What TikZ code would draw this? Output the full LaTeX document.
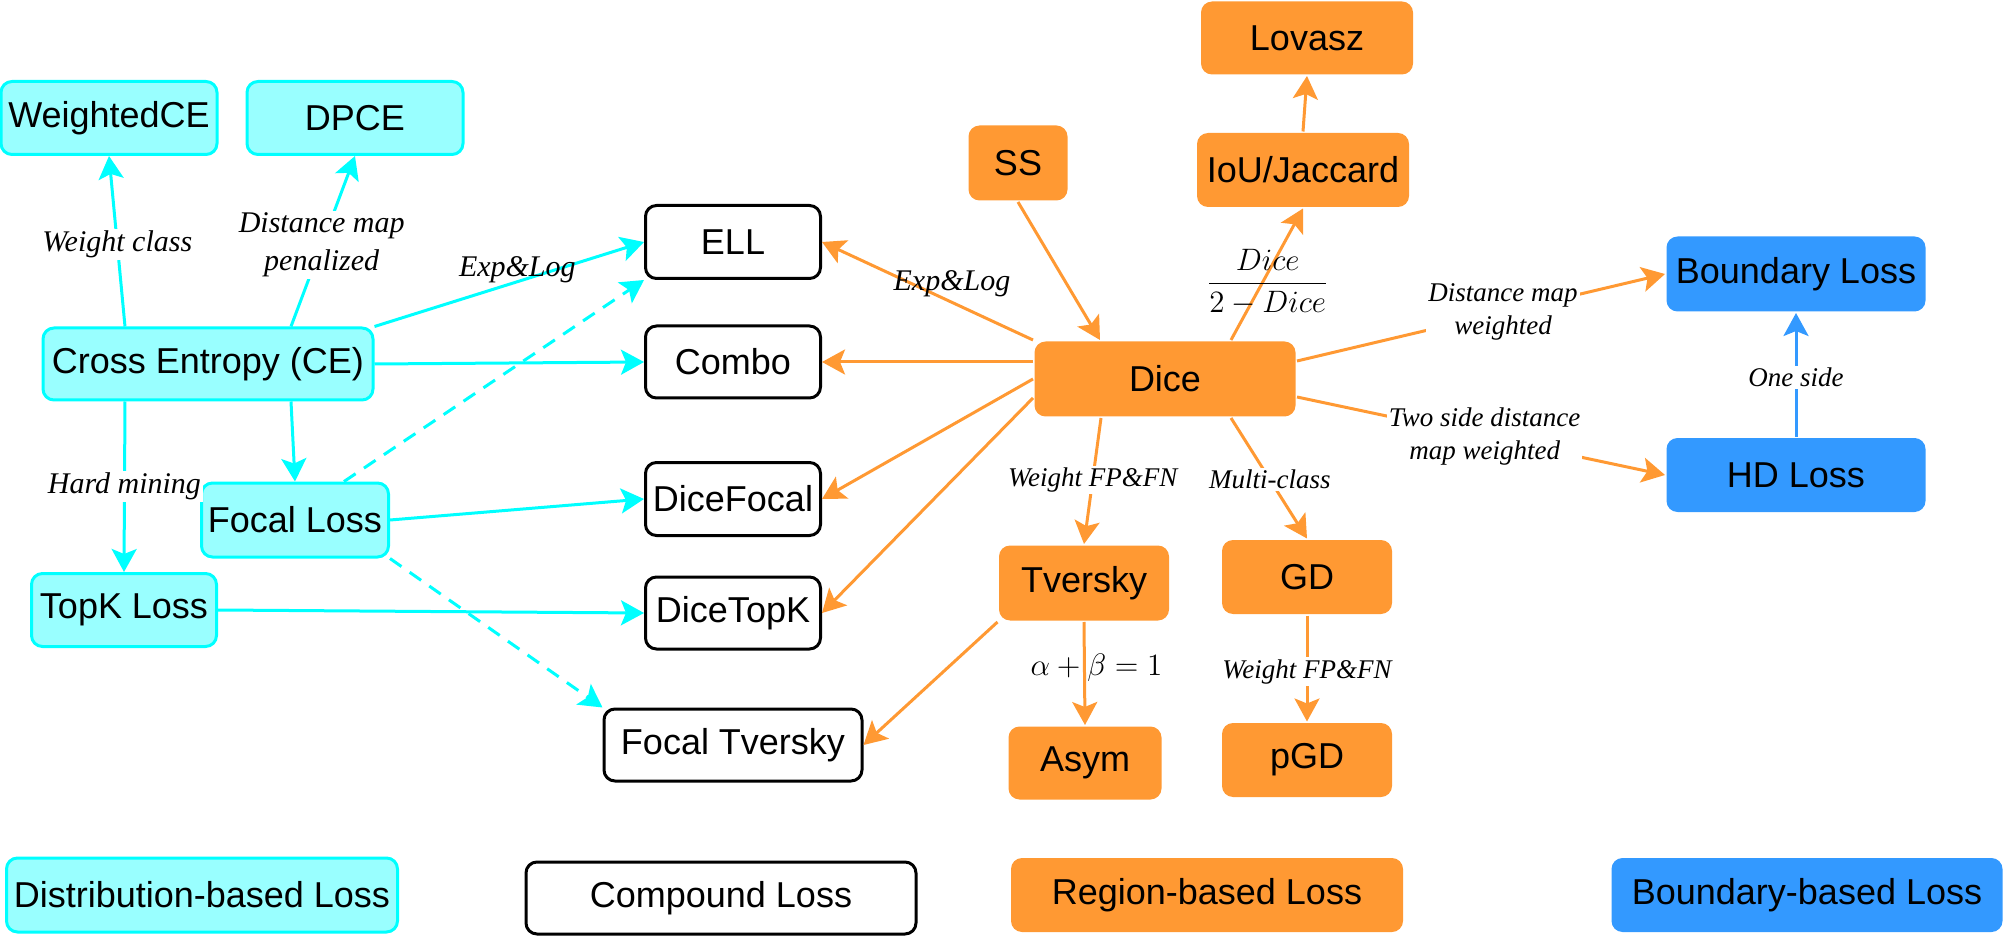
\documentclass[tikz,border=0pt]{standalone}
\usepackage{fix-cm}
\usepackage[no-math]{fontspec}
\setmainfont{Liberation Sans}
\newfontfamily\lblserif{Liberation Serif}
\usetikzlibrary{arrows.meta,calc}
\definecolor{cyanfill}{HTML}{99FFFF}
\definecolor{cyanline}{HTML}{00FFFF}
\definecolor{orng}{HTML}{FF9933}
\definecolor{blu}{HTML}{3399FF}
\begin{document}
\begin{tikzpicture}[x=0.5pt,y=-0.5pt,
  box/.style={rounded corners=5.5pt, inner sep=0pt, align=center,
    font=\fontsize{18}{21}\selectfont, line width=1.5pt},
  wh/.style 2 args={minimum width={#1*0.5pt}, minimum height={#2*0.5pt}},
  dist/.style={box, draw=cyanline, fill=cyanfill},
  comp/.style={box, draw=black, fill=white},
  regn/.style={box, fill=orng},
  bndy/.style={box, fill=blu},
  arr/.style={line width=1.5pt, -{Stealth[length=11.5pt,width=12.5pt,inset=2.5pt]}},
  carr/.style={arr, cyanline},
  dcarr/.style={carr, dash pattern=on 7pt off 5pt},
  oarr/.style={arr, orng},
  barr/.style={arr, blu},
  lbl/.style={font=\lblserif\itshape\fontsize{13.5}{16.5}\selectfont, fill=white,
    inner sep=1pt, align=center, text=black},
  lblL/.style={lbl, font=\lblserif\itshape\fontsize{15}{19}\selectfont},
  mlbl/.style={font=\fontsize{15.5}{18}\selectfont, inner sep=0pt, text=black},
]
\useasboundingbox (0,0) rectangle (2004,936);

% distribution-based
\node[dist, wh={216}{73}] (wce) at (109,118) {WeightedCE};
\node[dist, wh={216}{73}] (dpce) at (355,118) {DPCE};
\node[dist, wh={330}{72}] (ce) at (208,364) {Cross Entropy (CE)};
\node[dist, wh={187}{74}] (focal) at (295,520) {Focal Loss};
\node[dist, wh={185}{73}] (topk) at (124,610) {TopK Loss};

% compound
\node[comp, wh={175}{73}] (ell) at (733,242) {ELL};
\node[comp, wh={175}{72}] (combo) at (733,362) {Combo};
\node[comp, wh={175}{73}] (dicefocal) at (733,499) {DiceFocal};
\node[comp, wh={175}{72}] (dicetopk) at (733,613) {DiceTopK};
\node[comp, wh={258}{72}] (ftv) at (733,745) {Focal Tversky};

% region-based
\node[regn, wh={99}{75}] (ss) at (1018,163) {SS};
\node[regn, wh={212}{73}] (lovasz) at (1307,38) {Lovasz};
\node[regn, wh={212}{74}] (iou) at (1303,170) {IoU/Jaccard};
\node[regn, wh={261}{75}] (dice) at (1165,379) {Dice};
\node[regn, wh={170}{75}] (tversky) at (1084,583) {Tversky};
\node[regn, wh={170}{74}] (gd) at (1307,577) {GD};
\node[regn, wh={153}{73}] (asym) at (1085,763) {Asym};
\node[regn, wh={170}{74}] (pgd) at (1307,760) {pGD};

% boundary-based
\node[bndy, wh={259}{75}] (bl) at (1796,274) {Boundary Loss};
\node[bndy, wh={259}{74}] (hd) at (1796,475) {HD Loss};

% legend
\node[dist, wh={391}{74}] (leg1) at (202,895) {Distribution-based Loss};
\node[comp, wh={390}{72}] (leg2) at (721,898) {Compound Loss};
\node[regn, wh={392}{74}] (leg3) at (1207,895) {Region-based Loss};
\node[bndy, wh={391}{74}] (leg4) at (1807,895) {Boundary-based Loss};

% cyan connectors
\draw[carr] ($(ce.north)+(-83,0)$) -- node[lblL,pos=0.48]{Weight class} (wce.south);
\draw[carr] ($(ce.north)+(83,0)$) -- node[lblL,pos=0.48]{Distance map\\penalized} (dpce.south);
\draw[carr] (ce.north east) -- node[lblL,fill=none,pos=0.53,yshift=6pt]{Exp\&Log} (ell.west);
\draw[carr] (ce.east) -- (combo.west);
\draw[carr] ($(ce.south)+(83,0)$) -- (focal.north);
\draw[carr] ($(ce.south)+(-83,0)$) -- node[lblL,pos=0.5]{Hard mining} (topk.north);
\draw[dcarr] ($(focal.north)+(49,0)$) -- (ell.south west);
\draw[carr] (focal.east) -- (dicefocal.west);
\draw[dcarr] (focal.south east) -- (ftv.north west);
\draw[carr] (topk.east) -- (dicetopk.west);

% orange connectors
\draw[oarr] (dice.north west) -- node[lblL,fill=none,pos=0.384,yshift=9.5pt]{Exp\&Log} (ell.east);
\draw[oarr] (dice.west |- combo.east) -- (combo.east);
\draw[oarr] (dice.west) -- (dicefocal.east);
\draw[oarr] ($(dice.west)+(0,19)$) -- (dicetopk.east);
\draw[oarr] (ss.south) -- ($(dice.north)+(-65,0)$);
\draw[oarr] ($(dice.north)+(66,0)$) -- node[mlbl,pos=0.44,xshift=2.5pt]{$\displaystyle\frac{Dice}{2-Dice}$} (iou.south);
\draw[oarr] (iou.north) -- (lovasz.south);
\draw[oarr] ($(dice.south)+(-64,0)$) -- node[lbl,pos=0.49]{Weight FP\&FN} (tversky.north);
\draw[oarr] ($(dice.south)+(66,0)$) -- node[lbl,pos=0.51]{Multi-class} (gd.north);
\draw[oarr] ($(dice.east)+(0,-18)$) -- node[lbl,pos=0.56]{Distance map\\weighted} (bl.west);
\draw[oarr] ($(dice.east)+(0,18)$) -- node[lbl,pos=0.51]{Two side distance\\map weighted} (hd.west);
\draw[oarr] (tversky.south) -- node[mlbl,pos=0.44,xshift=6pt]{$\alpha+\beta=1$} (asym.north);
\draw[oarr] (gd.south) -- node[lbl,pos=0.53]{Weight FP\&FN} (pgd.north);
\draw[oarr] (tversky.south west) -- (ftv.east);

% blue connector
\draw[barr] (hd.north) -- node[lbl,pos=0.48]{One side} (bl.south);
\end{tikzpicture}
\end{document}
